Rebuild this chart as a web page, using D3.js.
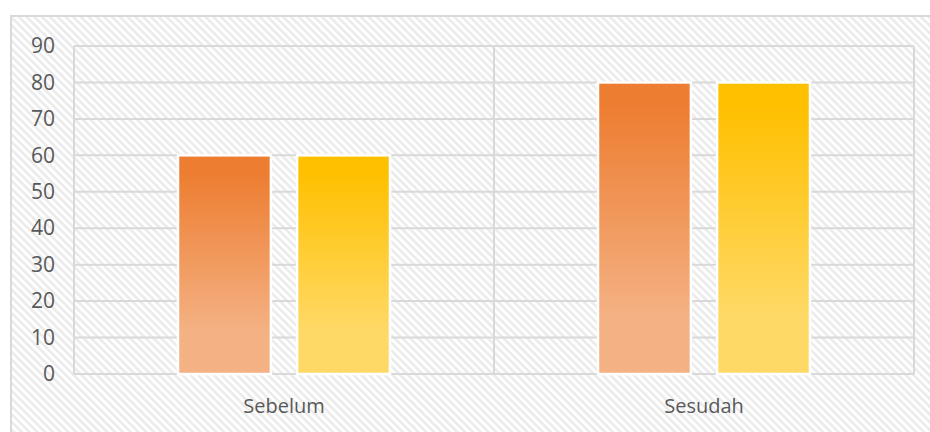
<!DOCTYPE html>
<html>
<head>
<meta charset="utf-8">
<script src="https://cdn.jsdelivr.net/npm/d3@7"></script>
<style>
  html, body { margin: 0; padding: 0; background: #ffffff; }
  svg { display: block; }
  text { font-family: "Open Sans", "Liberation Sans", sans-serif; fill: #595959; }
</style>
</head>
<body>
<svg id="chart" width="930" height="432"></svg>
<script>
// Scores before and after, two series per group
const categories = ["Sebelum", "Sesudah"];
const seriesNames = ["Seri 1", "Seri 2"];
const series1 = [60, 80];
const series2 = [60, 80];
const yTicks = [0, 10, 20, 30, 40, 50, 60, 70, 80, 90];

const seriesColors = [
  { top: "#ED7D31", bottom: "#F4B183" },
  { top: "#FFC000", bottom: "#FFD966" }
];

const svg = d3.select("#chart");
const W = 930, H = 432;
const plot = { left: 74, right: 914, top: 46, bottom: 374 };

const defs = svg.append("defs");

// Diagonal hatch used for the chart background
const hatch = defs.append("pattern")
  .attr("id", "hatch")
  .attr("patternUnits", "userSpaceOnUse")
  .attr("width", 5.5).attr("height", 6)
  .attr("patternTransform", "rotate(-45)");
hatch.append("rect").attr("width", 5.5).attr("height", 6).attr("fill", "#ffffff");
hatch.append("rect").attr("width", 2.75).attr("height", 6).attr("fill", "#ececec");

// Vertical gradient for each series
seriesColors.forEach((c, i) => {
  const g = defs.append("linearGradient")
    .attr("id", "grad" + i)
    .attr("x1", 0).attr("y1", 0).attr("x2", 0).attr("y2", 1);
  g.append("stop").attr("offset", 0).attr("stop-color", c.top);
  g.append("stop").attr("offset", 0.08).attr("stop-color", c.top);
  g.append("stop").attr("offset", 0.8).attr("stop-color", c.bottom);
  g.append("stop").attr("offset", 1).attr("stop-color", c.bottom);
});

// Chart area frame
svg.append("rect")
  .attr("x", 11).attr("y", 16)
  .attr("width", W + 20).attr("height", H + 20)
  .attr("fill", "url(#hatch)")
  .attr("stroke", "#d9d9d9").attr("stroke-width", 2);

const x0 = d3.scaleBand().domain(categories).range([plot.left, plot.right]).padding(0);
const y = d3.scaleLinear().domain([0, 90]).range([plot.bottom, plot.top]);

const groupHalf = 106;
const x1 = d3.scaleBand().domain(seriesNames)
  .range([x0.bandwidth() / 2 - groupHalf, x0.bandwidth() / 2 + groupHalf])
  .paddingInner(0.22).paddingOuter(0);

// Horizontal gridlines
svg.append("g")
  .selectAll("line")
  .data(yTicks)
  .join("line")
  .attr("x1", plot.left).attr("x2", plot.right)
  .attr("y1", d => y(d)).attr("y2", d => y(d))
  .attr("stroke", "#d9d9d9").attr("stroke-width", 2);

// Vertical category dividers
const dividers = categories.map(c => x0(c)).concat([plot.right]);
svg.append("g")
  .selectAll("line")
  .data(dividers)
  .join("line")
  .attr("x1", d => d).attr("x2", d => d)
  .attr("y1", plot.top).attr("y2", plot.bottom)
  .attr("stroke", "#d9d9d9").attr("stroke-width", 2);

// Y axis tick labels
const yAxis = d3.axisLeft(y).tickValues(yTicks).tickSize(0).tickPadding(0);
const yg = svg.append("g").attr("transform", `translate(${plot.left - 19},0)`).call(yAxis);
yg.select(".domain").remove();
yg.selectAll("text")
  .attr("font-size", 21)
  .attr("fill", "#595959")
  .style("font-family", "'Open Sans', 'Liberation Sans', sans-serif");

// X axis category labels
const xAxis = d3.axisBottom(x0).tickSize(0).tickPadding(0);
const xg = svg.append("g").attr("transform", `translate(0,${plot.bottom + 24})`).call(xAxis);
xg.select(".domain").remove();
xg.selectAll("text")
  .attr("font-size", 20)
  .attr("fill", "#595959")
  .attr("dy", "0.75em")
  .style("font-family", "'Open Sans', 'Liberation Sans', sans-serif");

// Bars
const allSeries = [series1, series2];
const rows = categories.map((c, ci) => ({
  category: c,
  values: seriesNames.map((s, si) => ({ series: s, index: si, value: allSeries[si][ci] }))
}));

svg.append("g")
  .selectAll("g")
  .data(rows)
  .join("g")
  .attr("transform", d => `translate(${x0(d.category)},0)`)
  .selectAll("rect")
  .data(d => d.values)
  .join("rect")
  .attr("x", d => x1(d.series))
  .attr("width", x1.bandwidth())
  .attr("y", d => y(d.value))
  .attr("height", d => y(0) - y(d.value))
  .attr("fill", d => `url(#grad${d.index})`)
  .attr("stroke", "#ffffff")
  .attr("stroke-width", 2.5);
</script>
</body>
</html>
